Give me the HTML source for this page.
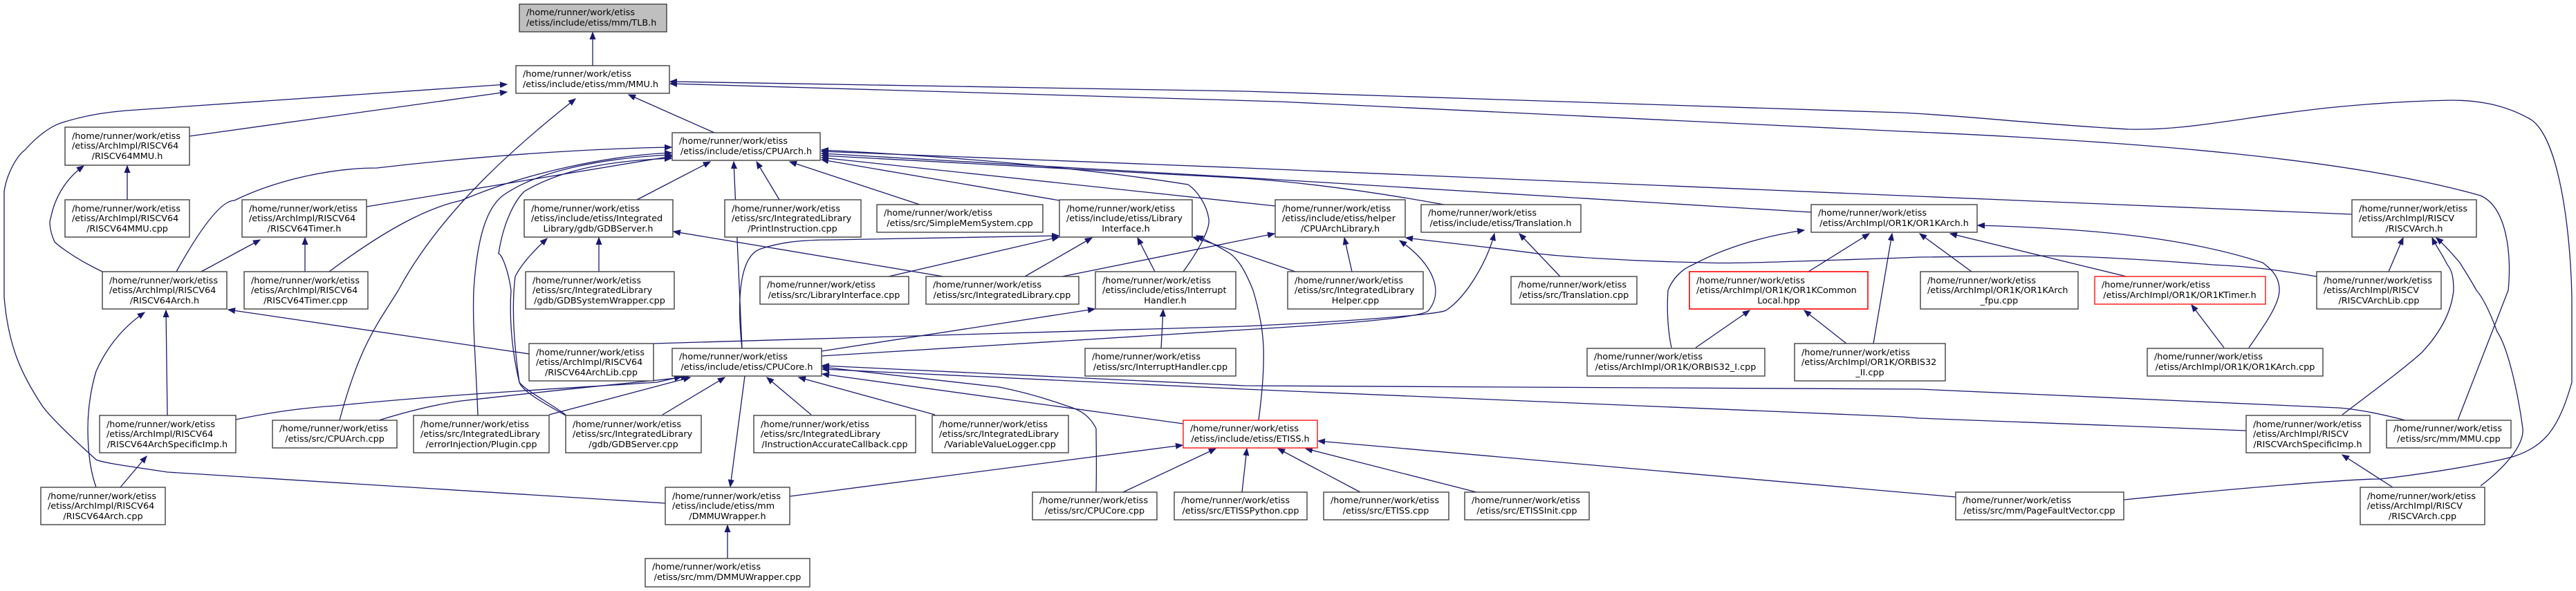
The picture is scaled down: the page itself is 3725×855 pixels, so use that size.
<!DOCTYPE html>
<html><head><meta charset="utf-8">
<style>
html,body{margin:0;padding:0;background:#fff;}
svg{display:block;}
text{font-family:"DejaVu Sans","Liberation Sans",sans-serif;font-size:12.8px;fill:#000;}
.n{fill:#fff;stroke:#404040;stroke-width:1.4;}
.r{fill:#fff;stroke:#ff3030;stroke-width:1.6;}
.g{fill:#bfbfbf;stroke:#404040;stroke-width:1.4;}
.e{fill:none;stroke:#191970;stroke-width:1.3;marker-end:url(#a);}
</style></head><body>
<svg width="3725" height="855" viewBox="0 0 3725 855" xmlns="http://www.w3.org/2000/svg">
<defs><marker id="a" markerWidth="12" markerHeight="9" refX="10" refY="4.5" orient="auto" markerUnits="userSpaceOnUse"><path d="M0,0.5 L10,4.5 L0,8.5z" fill="#191970" stroke="#191970" stroke-width="1"/></marker></defs>

<!-- edges -->
<path class="e" d="M857,95 L857,47"/>
<path class="e" d="M274,197 L733,133"/>
<path class="e" d="M962,728 L242,683 C190,675 150,670 139,665 C100,630 70,600 61,587 C30,540 12,500 6,430 L6,277 C10,250 25,225 36,217 C60,190 80,180 91,177 C130,165 160,162 182,160 L733,122"/>
<path class="e" d="M1033,192 L909,137"/>
<path class="e" d="M491,608 C520,500 545,470 576,420 C640,300 760,200 832,143"/>
<path class="e" d="M3554,608 L3627,420 C3632,367 3625,300 3587,283 C3400,230 3100,205 2750,190 L1850,147 L969,121"/>
<path class="e" d="M3071,723 C3250,705 3400,693 3442,693 C3550,680 3620,665 3636,660 C3680,645 3700,620 3719,553 L3719,430 C3717,330 3700,200 3660,173 C3620,150 3580,145 3545,145 C3300,150 3200,190 3078,187 C2950,180 2850,168 2750,163 L1800,132 L969,118"/>
<path class="e" d="M184,289 L184,240"/>
<path class="e" d="M148,393 C100,370 79,350 79,350 C70,330 72,317 73,317 C80,280 100,255 121,240"/>
<path class="e" d="M530,299 L972,226"/>
<path class="e" d="M255,393 C290,330 320,290 339,290 C400,260 480,243 545,243 C700,225 850,215 971,213"/>
<path class="e" d="M476,393 C560,330 620,300 667,290 C760,250 880,225 971,221"/>
<path class="e" d="M691,601 C688,520 683,470 685,420 C690,340 705,300 727,283 C780,245 880,228 971,224"/>
<path class="e" d="M818,600 C790,580 760,565 751,553 C738,500 737,450 739,420 C735,390 725,367 721,367 C728,320 745,290 758,277 C820,240 900,232 971,229"/>
<path class="e" d="M921,289 L1027,234"/>
<path class="e" d="M1073,504 L1061,234"/>
<path class="e" d="M1127,289 L1094,234"/>
<path class="e" d="M1330,296 L1142,234"/>
<path class="e" d="M1532,290 L1188,231"/>
<path class="e" d="M1844,298 L1188,228"/>
<path class="e" d="M2088,296 C2000,280 1900,265 1800,258 L1188,225"/>
<path class="e" d="M2619,307 L1800,257 L1188,222"/>
<path class="e" d="M3401,310 L2750,283 L1800,243 L1188,219"/>
<path class="e" d="M1711,393 C1735,360 1750,330 1748,317 C1745,295 1730,275 1718,267 C1550,240 1350,225 1188,217"/>
<path class="e" d="M291,393 L376,347"/>
<path class="e" d="M441,393 L441,344"/>
<path class="e" d="M866,393 L866,344"/>
<path class="e" d="M818,601 C780,580 755,565 751,553 C742,490 740,440 745,400 C755,380 775,360 791,345"/>
<path class="e" d="M1364,400 L974,335"/>
<path class="e" d="M765,512 L330,448"/>
<path class="e" d="M242,601 L240,449"/>
<path class="e" d="M139,705 C130,680 127,650 127,620 C127,590 132,560 139,537 C160,490 190,465 209,452"/>
<path class="e" d="M174,705 L212,660"/>
<path class="e" d="M341,607 C400,595 440,590 485,587 C650,570 850,560 950,553 L985,545"/>
<path class="e" d="M548,608 C590,595 630,585 667,580 C800,565 900,555 950,550 L995,545"/>
<path class="e" d="M794,600 L900,572 L998,546"/>
<path class="e" d="M958,600 L1048,546"/>
<path class="e" d="M1173,600 L1109,546"/>
<path class="e" d="M1352,600 L1155,546"/>
<path class="e" d="M1077,544 L1056,704"/>
<path class="e" d="M1052,808 L1052,760"/>
<path class="e" d="M1142,718 L1710,644"/>
<path class="e" d="M1711,613 L1189,541"/>
<path class="e" d="M1585,712 C1586,670 1585,640 1585,620 C1575,600 1560,592 1542,587 C1500,572 1470,565 1445,560 L1189,531"/>
<path class="e" d="M1188,508 L1583,447"/>
<path class="e" d="M1679,504 L1682,448"/>
<path class="e" d="M1073,504 C1065,430 1070,370 1100,360 C1130,350 1160,347 1203,347 L1531,341"/>
<path class="e" d="M1285,400 L1531,343"/>
<path class="e" d="M1482,400 L1579,344"/>
<path class="e" d="M1670,393 L1645,344"/>
<path class="e" d="M1820,608 C1825,570 1828,530 1827,503 C1826,470 1818,440 1812,420 C1800,390 1790,375 1779,367 C1760,355 1745,348 1730,341"/>
<path class="e" d="M1873,393 L1800,368 L1725,343"/>
<path class="e" d="M1536,400 L1843,338"/>
<path class="e" d="M1955,393 L1944,344"/>
<path class="e" d="M1188,515 L1800,477 C1950,468 2050,460 2065,450 C2090,420 2070,380 2024,348"/>
<path class="e" d="M945,497 L1800,472 C1950,465 2080,455 2091,449 C2120,430 2150,380 2161,338"/>
<path class="e" d="M2256,400 L2197,338"/>
<path class="e" d="M2615,393 L2703,338"/>
<path class="e" d="M2709,497 L2736,338"/>
<path class="e" d="M2851,393 L2776,338"/>
<path class="e" d="M3075,400 L2820,338"/>
<path class="e" d="M3252,503 C3275,470 3296,440 3296,420 C3296,400 3285,390 3272,380 C3150,340 3000,330 2860,326"/>
<path class="e" d="M2417,503 C2412,480 2410,450 2412,420 C2418,405 2430,390 2448,383 C2500,355 2560,340 2609,333"/>
<path class="e" d="M2452,503 L2530,449"/>
<path class="e" d="M2670,497 L2609,449"/>
<path class="e" d="M3216,503 L3169,441"/>
<path class="e" d="M3350,400 C3280,388 3240,385 3199,383 C3100,375 3000,370 2957,370 L2775,372 L2750,373 C2600,378 2500,382 2467,380 C2350,378 2250,370 2224,367 C2150,357 2080,350 2033,344"/>
<path class="e" d="M3454,393 L3475,344"/>
<path class="e" d="M3387,600 C3440,560 3480,530 3502,510 C3530,480 3545,450 3548,420 C3548,400 3545,390 3539,383 C3530,365 3522,355 3517,344"/>
<path class="e" d="M3587,703 C3630,670 3650,640 3648,620 C3640,560 3625,500 3611,480 C3600,450 3590,430 3581,420 C3570,400 3563,390 3557,380 C3540,360 3530,350 3523,344"/>
<path class="e" d="M3460,705 L3387,658"/>
<path class="e" d="M3248,623 L2775,605 L2750,603 L1800,563 L1189,534"/>
<path class="e" d="M3478,608 C3440,598 3410,592 3381,590 L2775,563 L1800,558 L1189,529"/>
<path class="e" d="M1624,712 L1758,649"/>
<path class="e" d="M1796,712 L1803,649"/>
<path class="e" d="M1967,712 L1848,649"/>
<path class="e" d="M2135,712 L1888,649"/>
<path class="e" d="M2828,719 L1906,638"/>

<!-- nodes -->
<g>
<rect class="g" x="751" y="6" width="213" height="40"/><text x="761" y="22">/home/runner/work/etiss</text><text x="761" y="37">/etiss/include/etiss/mm/TLB.h</text>
<rect class="n" x="746" y="95" width="222" height="40"/><text x="756" y="111">/home/runner/work/etiss</text><text x="756" y="126">/etiss/include/etiss/mm/MMU.h</text>
<rect class="n" x="94" y="184" width="180" height="55"/><text x="104" y="201">/home/runner/work/etiss</text><text x="104" y="215">/etiss/ArchImpl/RISCV64</text><text x="184" y="230" text-anchor="middle">/RISCV64MMU.h</text>
<rect class="n" x="94" y="289" width="180" height="54"/><text x="104" y="306">/home/runner/work/etiss</text><text x="104" y="320">/etiss/ArchImpl/RISCV64</text><text x="184" y="335" text-anchor="middle">/RISCV64MMU.cpp</text>
<rect class="n" x="350" y="289" width="180" height="54"/><text x="360" y="306">/home/runner/work/etiss</text><text x="360" y="320">/etiss/ArchImpl/RISCV64</text><text x="440" y="335" text-anchor="middle">/RISCV64Timer.h</text>
<rect class="n" x="758" y="289" width="215" height="54"/><text x="768" y="306">/home/runner/work/etiss</text><text x="768" y="320">/etiss/include/etiss/Integrated</text><text x="865" y="335" text-anchor="middle">Library/gdb/GDBServer.h</text>
<rect class="n" x="148" y="393" width="180" height="54"/><text x="158" y="410">/home/runner/work/etiss</text><text x="158" y="424">/etiss/ArchImpl/RISCV64</text><text x="238" y="439" text-anchor="middle">/RISCV64Arch.h</text>
<rect class="n" x="353" y="393" width="179" height="54"/><text x="363" y="410">/home/runner/work/etiss</text><text x="363" y="424">/etiss/ArchImpl/RISCV64</text><text x="442" y="439" text-anchor="middle">/RISCV64Timer.cpp</text>
<rect class="n" x="760" y="393" width="215" height="54"/><text x="770" y="410">/home/runner/work/etiss</text><text x="770" y="424">/etiss/src/IntegratedLibrary</text><text x="867" y="439" text-anchor="middle">/gdb/GDBSystemWrapper.cpp</text>
<rect class="n" x="765" y="497" width="180" height="54"/><text x="775" y="514">/home/runner/work/etiss</text><text x="775" y="528">/etiss/ArchImpl/RISCV64</text><text x="855" y="543" text-anchor="middle">/RISCV64ArchLib.cpp</text>
<rect class="n" x="144" y="601" width="197" height="54"/><text x="154" y="618">/home/runner/work/etiss</text><text x="154" y="632">/etiss/ArchImpl/RISCV64</text><text x="242" y="647" text-anchor="middle">/RISCV64ArchSpecificImp.h</text>
<rect class="n" x="394" y="608" width="180" height="40"/><text x="404" y="624">/home/runner/work/etiss</text><text x="484" y="639" text-anchor="middle">/etiss/src/CPUArch.cpp</text>
<rect class="n" x="598" y="601" width="196" height="54"/><text x="608" y="618">/home/runner/work/etiss</text><text x="608" y="632">/etiss/src/IntegratedLibrary</text><text x="696" y="647" text-anchor="middle">/errorInjection/Plugin.cpp</text>
<rect class="n" x="818" y="601" width="196" height="54"/><text x="828" y="618">/home/runner/work/etiss</text><text x="828" y="632">/etiss/src/IntegratedLibrary</text><text x="916" y="647" text-anchor="middle">/gdb/GDBServer.cpp</text>
<rect class="n" x="59" y="705" width="180" height="54"/><text x="69" y="722">/home/runner/work/etiss</text><text x="69" y="736">/etiss/ArchImpl/RISCV64</text><text x="149" y="751" text-anchor="middle">/RISCV64Arch.cpp</text>
<rect class="n" x="962" y="705" width="180" height="54"/><text x="972" y="722">/home/runner/work/etiss</text><text x="972" y="736">/etiss/include/etiss/mm</text><text x="1052" y="751" text-anchor="middle">/DMMUWrapper.h</text>
<rect class="n" x="933" y="808" width="238" height="41"/><text x="943" y="824">/home/runner/work/etiss</text><text x="1052" y="839" text-anchor="middle">/etiss/src/mm/DMMUWrapper.cpp</text>
<rect class="n" x="972" y="192" width="214" height="40"/><text x="982" y="208">/home/runner/work/etiss</text><text x="1079" y="223" text-anchor="middle">/etiss/include/etiss/CPUArch.h</text>
<rect class="n" x="1048" y="289" width="197" height="54"/><text x="1058" y="306">/home/runner/work/etiss</text><text x="1058" y="320">/etiss/src/IntegratedLibrary</text><text x="1146" y="335" text-anchor="middle">/PrintInstruction.cpp</text>
<rect class="n" x="1268" y="296" width="240" height="40"/><text x="1278" y="312">/home/runner/work/etiss</text><text x="1388" y="327" text-anchor="middle">/etiss/src/SimpleMemSystem.cpp</text>
<rect class="n" x="1532" y="289" width="192" height="54"/><text x="1542" y="306">/home/runner/work/etiss</text><text x="1542" y="320">/etiss/include/etiss/Library</text><text x="1628" y="335" text-anchor="middle">Interface.h</text>
<rect class="n" x="1844" y="289" width="188" height="54"/><text x="1854" y="306">/home/runner/work/etiss</text><text x="1854" y="320">/etiss/include/etiss/helper</text><text x="1938" y="335" text-anchor="middle">/CPUArchLibrary.h</text>
<rect class="n" x="1099" y="400" width="215" height="40"/><text x="1109" y="416">/home/runner/work/etiss</text><text x="1206" y="431" text-anchor="middle">/etiss/src/LibraryInterface.cpp</text>
<rect class="n" x="1339" y="400" width="221" height="40"/><text x="1349" y="416">/home/runner/work/etiss</text><text x="1449" y="431" text-anchor="middle">/etiss/src/IntegratedLibrary.cpp</text>
<rect class="n" x="1584" y="393" width="203" height="54"/><text x="1594" y="410">/home/runner/work/etiss</text><text x="1594" y="424">/etiss/include/etiss/Interrupt</text><text x="1685" y="439" text-anchor="middle">Handler.h</text>
<rect class="n" x="972" y="504" width="216" height="40"/><text x="982" y="520">/home/runner/work/etiss</text><text x="1080" y="535" text-anchor="middle">/etiss/include/etiss/CPUCore.h</text>
<rect class="n" x="1569" y="504" width="218" height="40"/><text x="1579" y="520">/home/runner/work/etiss</text><text x="1678" y="535" text-anchor="middle">/etiss/src/InterruptHandler.cpp</text>
<rect class="n" x="1090" y="601" width="234" height="54"/><text x="1100" y="618">/home/runner/work/etiss</text><text x="1100" y="632">/etiss/src/IntegratedLibrary</text><text x="1207" y="647" text-anchor="middle">/InstructionAccurateCallback.cpp</text>
<rect class="n" x="1348" y="601" width="197" height="54"/><text x="1358" y="618">/home/runner/work/etiss</text><text x="1358" y="632">/etiss/src/IntegratedLibrary</text><text x="1446" y="647" text-anchor="middle">/VariableValueLogger.cpp</text>
<rect class="r" x="1711" y="608" width="194" height="40"/><text x="1721" y="624">/home/runner/work/etiss</text><text x="1808" y="639" text-anchor="middle">/etiss/include/etiss/ETISS.h</text>
<rect class="n" x="1493" y="712" width="180" height="40"/><text x="1503" y="728">/home/runner/work/etiss</text><text x="1583" y="743" text-anchor="middle">/etiss/src/CPUCore.cpp</text>
<rect class="n" x="1698" y="712" width="192" height="40"/><text x="1708" y="728">/home/runner/work/etiss</text><text x="1794" y="743" text-anchor="middle">/etiss/src/ETISSPython.cpp</text>
<rect class="n" x="2055" y="296" width="231" height="40"/><text x="2065" y="312">/home/runner/work/etiss</text><text x="2170" y="327" text-anchor="middle">/etiss/include/etiss/Translation.h</text>
<rect class="n" x="2619" y="296" width="240" height="40"/><text x="2629" y="312">/home/runner/work/etiss</text><text x="2739" y="327" text-anchor="middle">/etiss/ArchImpl/OR1K/OR1KArch.h</text>
<rect class="n" x="1862" y="393" width="196" height="54"/><text x="1872" y="410">/home/runner/work/etiss</text><text x="1872" y="424">/etiss/src/IntegratedLibrary</text><text x="1960" y="439" text-anchor="middle">Helper.cpp</text>
<rect class="n" x="2185" y="400" width="182" height="40"/><text x="2195" y="416">/home/runner/work/etiss</text><text x="2276" y="431" text-anchor="middle">/etiss/src/Translation.cpp</text>
<rect class="r" x="2443" y="393" width="258" height="54" style="stroke:#ff0000"/><text x="2453" y="410">/home/runner/work/etiss</text><text x="2453" y="424">/etiss/ArchImpl/OR1K/OR1KCommon</text><text x="2572" y="439" text-anchor="middle">Local.hpp</text>
<rect class="n" x="3401" y="289" width="180" height="54"/><text x="3411" y="306">/home/runner/work/etiss</text><text x="3411" y="320">/etiss/ArchImpl/RISCV</text><text x="3491" y="335" text-anchor="middle">/RISCVArch.h</text>
<rect class="n" x="2777" y="393" width="228" height="54"/><text x="2787" y="410">/home/runner/work/etiss</text><text x="2787" y="424">/etiss/ArchImpl/OR1K/OR1KArch</text><text x="2891" y="439" text-anchor="middle">_fpu.cpp</text>
<rect class="r" x="3029" y="400" width="247" height="40"/><text x="3039" y="416">/home/runner/work/etiss</text><text x="3152" y="431" text-anchor="middle">/etiss/ArchImpl/OR1K/OR1KTimer.h</text>
<rect class="n" x="3350" y="393" width="180" height="54"/><text x="3360" y="410">/home/runner/work/etiss</text><text x="3360" y="424">/etiss/ArchImpl/RISCV</text><text x="3440" y="439" text-anchor="middle">/RISCVArchLib.cpp</text>
<rect class="n" x="2295" y="504" width="257" height="40"/><text x="2305" y="520">/home/runner/work/etiss</text><text x="2423" y="535" text-anchor="middle">/etiss/ArchImpl/OR1K/ORBIS32_I.cpp</text>
<rect class="n" x="2595" y="497" width="218" height="54"/><text x="2605" y="514">/home/runner/work/etiss</text><text x="2605" y="528">/etiss/ArchImpl/OR1K/ORBIS32</text><text x="2704" y="543" text-anchor="middle">_II.cpp</text>
<rect class="n" x="1914" y="712" width="181" height="40"/><text x="1924" y="728">/home/runner/work/etiss</text><text x="2004" y="743" text-anchor="middle">/etiss/src/ETISS.cpp</text>
<rect class="n" x="2118" y="712" width="180" height="40"/><text x="2128" y="728">/home/runner/work/etiss</text><text x="2208" y="743" text-anchor="middle">/etiss/src/ETISSInit.cpp</text>
<rect class="n" x="3105" y="504" width="254" height="40"/><text x="3115" y="520">/home/runner/work/etiss</text><text x="3232" y="535" text-anchor="middle">/etiss/ArchImpl/OR1K/OR1KArch.cpp</text>
<rect class="n" x="3248" y="601" width="179" height="54"/><text x="3258" y="618">/home/runner/work/etiss</text><text x="3258" y="632">/etiss/ArchImpl/RISCV</text><text x="3337" y="647" text-anchor="middle">/RISCVArchSpecificImp.h</text>
<rect class="n" x="3451" y="608" width="180" height="40"/><text x="3461" y="624">/home/runner/work/etiss</text><text x="3541" y="639" text-anchor="middle">/etiss/src/mm/MMU.cpp</text>
<rect class="n" x="2828" y="712" width="243" height="40"/><text x="2838" y="728">/home/runner/work/etiss</text><text x="2949" y="743" text-anchor="middle">/etiss/src/mm/PageFaultVector.cpp</text>
<rect class="n" x="3413" y="705" width="180" height="54"/><text x="3423" y="722">/home/runner/work/etiss</text><text x="3423" y="736">/etiss/ArchImpl/RISCV</text><text x="3503" y="751" text-anchor="middle">/RISCVArch.cpp</text>
</g>
</svg>
</body></html>
